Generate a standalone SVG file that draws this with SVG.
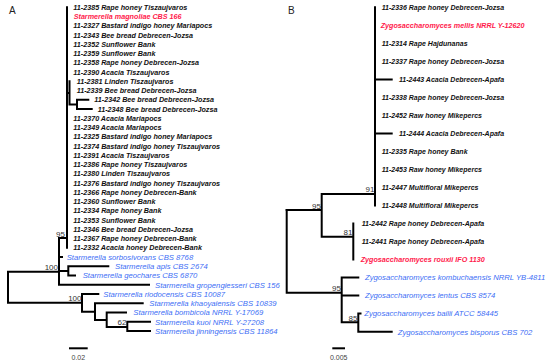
<svg xmlns="http://www.w3.org/2000/svg" width="550" height="364" viewBox="0 0 550 364">
<style>
.t{font-family:"Liberation Sans",Arial,sans-serif;font-weight:bold;font-style:italic;fill:#111;font-size:7.2px}
.tb{font-size:7px}
.r{font-family:"Liberation Sans",Arial,sans-serif;font-weight:bold;font-style:italic;fill:#ff1a4b;font-size:7.2px}
.b{font-family:"Liberation Sans",Arial,sans-serif;font-style:italic;fill:#3d6ef5;font-size:7.7px}
.n{font-family:"Liberation Sans",Arial,sans-serif;fill:#333;font-size:8px;text-anchor:end}
.L{font-family:"Liberation Sans",Arial,sans-serif;fill:#222;font-size:10px}
.s{font-family:"Liberation Sans",Arial,sans-serif;fill:#444;font-size:7px;text-anchor:middle}
.e{fill:none;stroke:#000;stroke-width:2;stroke-linecap:square}
</style>
<rect width="550" height="364" fill="#fff"/>
<g id="connectors">
<!-- Panel A -->
<path class="e" d="M67 7.3V247.8M67 92.9H69.5M69.5 81.3V104.4M69.5 104.4H77M77 99.8V109.05M77 99.8H88.3M77 109.05H91.7"/>
<path class="e" d="M59 238H67M59 238V284.8M59 257H62M59 271H68.3M68.3 266.3V275.55M68.3 266.3H108.3M68.3 275.55H75M59 284.8H149"/>
<path class="e" d="M8 271.7V302.7M8 271.7H59M8 302.7H82M82 294.05V311.7M82 294.05H98.3M82 311.7H95M95 303.3V320M95 303.3H142.7M95 320H106.7M106.7 312.55V327M106.7 312.55H126M106.7 327H127.3M127.3 321.8V331.05M127.3 321.8H150M127.3 331.05H150"/>
<path class="e" d="M70 348.3H86.7"/>
<!-- Panel B -->
<path class="e" d="M375 7.3V205.5M375 79.4H391.7M375 133.4H391.7M321.7 194H375M321.7 194V236.7M286.7 210H321.7M321.7 236.7H353.3M353.3 223.5V259.6"/>
<path class="e" d="M286.7 210V292.7M286.7 292.7H341.7M341.7 277.6V322.3M341.7 277.6H358.3M341.7 295.6H358.3M341.7 322.3H358.3M358.3 313.6V331.7M358.3 313.6H360.5M358.3 331.7H391.7"/>
<path class="e" d="M333.3 348.3H344"/>
</g>
<g id="labels">
<text class="L" x="9" y="13.5">A</text>
<text class="L" x="288" y="13.5">B</text>
<text class="n" x="65" y="236.5">95</text>
<text class="n" x="58" y="270.3">100</text>
<text class="n" x="81.5" y="301">100</text>
<text class="n" x="126.5" y="325.3">62</text>
<text class="n" x="374.5" y="192">91</text>
<text class="n" x="321" y="208.8">95</text>
<text class="n" x="352.5" y="234.5">81</text>
<text class="n" x="341" y="291">95</text>
<text class="n" x="357.5" y="321">85</text>
<text class="s" x="78.3" y="360">0.02</text>
<text class="s" x="338.7" y="360">0.005</text>
</g>
<g id="nodesA">
<g id="a0"><text class="t" x="73.3" y="9.9">11-2385 Rape honey Tiszaujvaros</text></g>
<g id="a1"><text class="r" x="73.7" y="19.2">Starmerella magnoliae CBS 166</text></g>
<g id="a2"><text class="t" x="73.3" y="28.4">11-2327 Bastard indigo honey Mariapocs</text></g>
<g id="a3"><text class="t" x="73.3" y="37.7">11-2343 Bee bread Debrecen-Jozsa</text></g>
<g id="a4"><text class="t" x="73.3" y="46.9">11-2352 Sunflower Bank</text></g>
<g id="a5"><text class="t" x="73.3" y="56.2">11-2359 Sunflower Bank</text></g>
<g id="a6"><text class="t" x="73.3" y="65.4">11-2358 Rape honey Debrecen-Jozsa</text></g>
<g id="a7"><text class="t" x="73.3" y="74.7">11-2390 Acacia Tiszaujvaros</text></g>
<g id="a8"><text class="t" x="76.7" y="83.9">11-2381 Linden Tiszaujvaros</text></g>
<g id="a9"><text class="t" x="76.7" y="93.2">11-2339 Bee bread Debrecen-Jozsa</text></g>
<g id="a10"><text class="t" x="94.3" y="102.4">11-2342 Bee bread Debrecen-Jozsa</text></g>
<g id="a11"><text class="t" x="97.7" y="111.7">11-2348 Bee bread Debrecen-Jozsa</text></g>
<g id="a12"><text class="t" x="73.3" y="120.9">11-2370 Acacia Mariapocs</text></g>
<g id="a13"><text class="t" x="73.3" y="130.2">11-2349 Acacia Mariapocs</text></g>
<g id="a14"><text class="t" x="73.3" y="139.4">11-2325 Bastard indigo honey Mariapocs</text></g>
<g id="a15"><text class="t" x="73.3" y="148.7">11-2374 Bastard indigo honey Tiszaujvaros</text></g>
<g id="a16"><text class="t" x="73.3" y="157.9">11-2391 Acacia Tiszaujvaros</text></g>
<g id="a17"><text class="t" x="73.3" y="167.2">11-2386 Rape honey Tiszaujvaros</text></g>
<g id="a18"><text class="t" x="73.3" y="176.4">11-2380 Linden Tiszaujvaros</text></g>
<g id="a19"><text class="t" x="73.3" y="185.7">11-2376 Bastard indigo honey Tiszaujvaros</text></g>
<g id="a20"><text class="t" x="73.3" y="194.9">11-2366 Rape honey Debrecen-Bank</text></g>
<g id="a21"><text class="t" x="73.3" y="204.2">11-2360 Sunflower Bank</text></g>
<g id="a22"><text class="t" x="73.3" y="213.4">11-2334 Rape honey Bank</text></g>
<g id="a23"><text class="t" x="73.3" y="222.7">11-2353 Sunflower Bank</text></g>
<g id="a24"><text class="t" x="73.3" y="231.9">11-2346 Bee bread Debrecen-Jozsa</text></g>
<g id="a25"><text class="t" x="73.3" y="241.2">11-2367 Rape honey Debrecen-Bank</text></g>
<g id="a26"><text class="t" x="73.3" y="250.4">11-2332 Acacia honey Debrecen-Bank</text></g>
<g id="a27"><text class="b" x="66.7" y="259.9">Starmerella sorbosivorans CBS 8768</text></g>
<g id="a28"><text class="b" x="115" y="269.1">Starmerella apis CBS 2674</text></g>
<g id="a29"><text class="b" x="82.7" y="278.4">Starmerella geochares CBS 6870</text></g>
<g id="a30"><text class="b" x="155" y="287.6">Starmerella gropengiesseri CBS 156</text></g>
<g id="a31"><text class="b" x="103.3" y="296.9">Starmerella riodocensis CBS 10087</text></g>
<g id="a32"><text class="b" x="149.3" y="306.1">Starmerella khaoyaiensis CBS 10839</text></g>
<g id="a33"><text class="b" x="133.3" y="315.4">Starmerella bombicola NRRL Y-17069</text></g>
<g id="a34"><text class="b" x="155" y="324.6">Starmerella kuoi NRRL Y-27208</text></g>
<g id="a35"><text class="b" x="155" y="333.9">Starmerella jinningensis CBS 11864</text></g>
</g>
<g id="nodesB">
<g id="b0"><text class="t tb" x="381.7" y="9.8">11-2336 Rape honey Debrecen-Jozsa</text></g>
<g id="b1"><text class="r tb" x="380.7" y="27.8">Zygosaccharomyces mellis NRRL Y-12620</text></g>
<g id="b2"><text class="t tb" x="381.7" y="45.8">11-2314 Rape Hajdunanas</text></g>
<g id="b3"><text class="t tb" x="381.7" y="63.9">11-2337 Rape honey Debrecen-Jozsa</text></g>
<g id="b4"><text class="t tb" x="399" y="81.9">11-2443 Acacia Debrecen-Apafa</text></g>
<g id="b5"><text class="t tb" x="381.7" y="99.9">11-2338 Rape honey Debrecen-Jozsa</text></g>
<g id="b6"><text class="t tb" x="381.7" y="117.9">11-2452 Raw honey Mikepercs</text></g>
<g id="b7"><text class="t tb" x="399" y="135.9">11-2444 Acacia Debrecen-Apafa</text></g>
<g id="b8"><text class="t tb" x="381.7" y="154">11-2335 Rape honey Bank</text></g>
<g id="b9"><text class="t tb" x="381.7" y="172">11-2453 Raw honey Mikepercs</text></g>
<g id="b10"><text class="t tb" x="381.7" y="190">11-2447 Multifloral Mikepercs</text></g>
<g id="b11"><text class="t tb" x="381.7" y="208">11-2448 Multifloral Mikepercs</text></g>
<g id="b12"><text class="t tb" x="361.7" y="226">11-2442 Rape honey Debrecen-Apafa</text></g>
<g id="b13"><text class="t tb" x="361.7" y="244.1">11-2441 Rape honey Debrecen-Apafa</text></g>
<g id="b14"><text class="r tb" x="360.7" y="262.1">Zygosaccharomyces rouxii IFO 1130</text></g>
<g id="b15"><text class="b" x="365" y="280.4">Zygosaccharomyces kombuchaensis NRRL YB-4811</text></g>
<g id="b16"><text class="b" x="365" y="298.4">Zygosaccharomyces lentus CBS 8574</text></g>
<g id="b17"><text class="b" x="364.3" y="316.4">Zygosaccharomyces bailii ATCC 58445</text></g>
<g id="b18"><text class="b" x="397.7" y="334.5">Zygosaccharomyces bisporus CBS 702</text></g>
</g>
</svg>
